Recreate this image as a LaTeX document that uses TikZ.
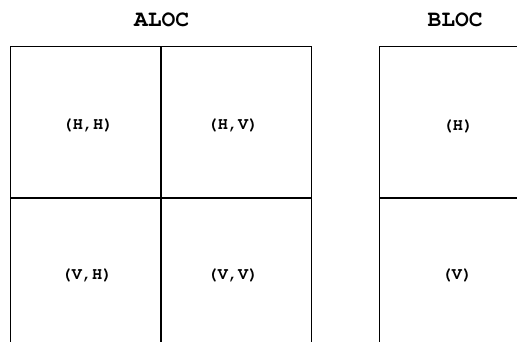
\documentclass[tikz,border=0pt]{standalone}
\usepackage[T1]{fontenc}
\usetikzlibrary{positioning}
\tikzset{cell/.style={rectangle,draw,line width=1bp,minimum width=150.2bp,minimum height=150.2bp,inner sep=0pt,anchor=north west},
         heading/.style={font=\fontfamily{pcr}\bfseries\fontsize{23}{25}\selectfont,inner sep=0pt},
         tag/.style={font=\fontfamily{pcr}\bfseries\fontsize{17}{19}\selectfont,inner sep=0pt}}
\begin{document}
\begin{tikzpicture}[x=1bp,y=-1bp]
    \useasboundingbox (0,0) rectangle (517,341);
    \clip (0,0) rectangle (517,341);
    % Headings
    \node (aloc) at (161.5,20) [heading]{ALOC};
    \node (bloc) at (455,20) [heading]{BLOC};
    % ALOC cells
    \node (hh) at (10,46.3) [cell]{};
    \node (hv) at (hh.north east) [cell]{};
    \node (vh) at (hh.south west) [cell]{};
    \node (vv) at (hh.south east) [cell]{};
    % BLOC cells
    \node (h) at (378.7,46.3) [cell]{};
    \node (v) at (h.south west) [cell]{};
    % Tags
    \node (hhtag) at (88,125) [tag]{(H,H)};
    \node (hvtag) at (233,125) [tag]{(H,V)};
    \node (vhtag) at (87,275) [tag]{(V,H)};
    \node (vvtag) at (233,275) [tag]{(V,V)};
    \node (htag) at (458,126) [tag]{(H)};
    \node (vtag) at (457,275) [tag]{(V)};
  \end{tikzpicture}
\end{document}
